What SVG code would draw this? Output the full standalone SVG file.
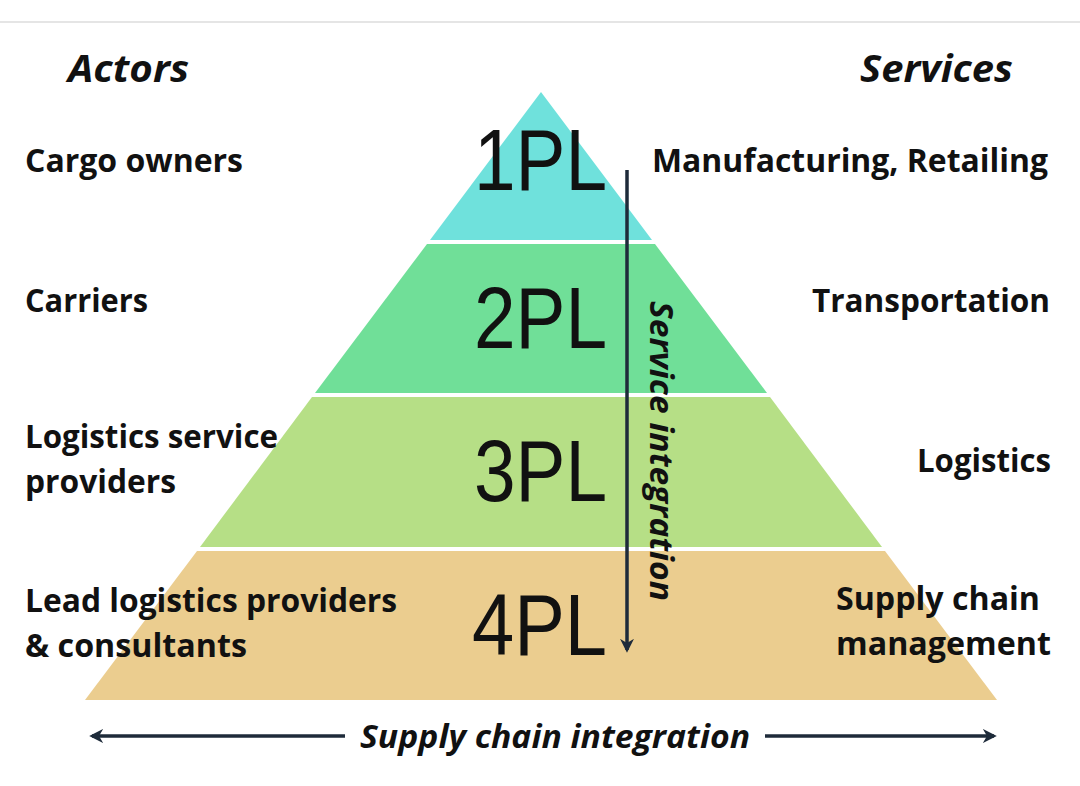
<svg xmlns="http://www.w3.org/2000/svg" width="1080" height="786" viewBox="0 0 1080 786">
<style>
.lbl{font-family:"Open Sans","Liberation Sans",sans-serif;font-weight:bold;font-size:31.5px;fill:#111}
.hdr{font-family:"Open Sans","Liberation Sans",sans-serif;font-weight:bold;font-style:italic;font-size:38px;fill:#111}
.pl{font-family:"Liberation Sans",Arial,sans-serif;font-size:87px;fill:#111}
.it{font-family:"Open Sans","Liberation Sans",sans-serif;font-weight:bold;font-style:italic;font-size:32px;fill:#111}
.arr{stroke:#1e2b3a;stroke-width:3.5;fill:none}
</style>
<defs>
<marker id="ah" viewBox="0 0 10 10" refX="8" refY="5" markerWidth="4" markerHeight="4" orient="auto-start-reverse" markerUnits="strokeWidth">
<path d="M0,0 L10,5 L0,10 L3,5 Z" fill="#1e2b3a"/>
</marker>
</defs>
<rect width="1080" height="786" fill="#fff"/>
<line x1="0" y1="22" x2="1080" y2="22" stroke="#dcdcdc" stroke-width="1.5"/>
<text class="hdr" x="68" y="82" textLength="121" lengthAdjust="spacingAndGlyphs">Actors</text>
<text class="hdr" x="860" y="82" textLength="153" lengthAdjust="spacingAndGlyphs">Services</text>
<g id="tier1">
<polygon points="541,92 652,240 430,240" fill="#6fe1dc"/>
<text class="pl" x="474" y="190" textLength="133" lengthAdjust="spacingAndGlyphs">1PL</text>
</g>
<g id="tier2">
<polygon points="427,244 655,244 767,393 315,393" fill="#70df98"/>
<text class="pl" x="474" y="348" textLength="133" lengthAdjust="spacingAndGlyphs">2PL</text>
</g>
<g id="tier3">
<polygon points="312,397 770,397 882,547 200,547" fill="#b6df86"/>
<text class="pl" x="474" y="501" textLength="133" lengthAdjust="spacingAndGlyphs">3PL</text>
</g>
<g id="tier4">
<polygon points="197,551 885,551 997,700 85,700" fill="#ebcd8f"/>
<text class="pl" x="472" y="655" textLength="135" lengthAdjust="spacingAndGlyphs">4PL</text>
</g>
<g id="actors">
<text class="lbl" x="25" y="172" textLength="218" lengthAdjust="spacingAndGlyphs">Cargo owners</text>
<text class="lbl" x="25" y="312" textLength="123" lengthAdjust="spacingAndGlyphs">Carriers</text>
<text class="lbl" x="25" y="448" textLength="253" lengthAdjust="spacingAndGlyphs">Logistics service</text>
<text class="lbl" x="25" y="493" textLength="151" lengthAdjust="spacingAndGlyphs">providers</text>
<text class="lbl" x="25" y="612" textLength="372" lengthAdjust="spacingAndGlyphs">Lead logistics providers</text>
<text class="lbl" x="25" y="657" textLength="222" lengthAdjust="spacingAndGlyphs">&amp; consultants</text>
</g>
<g id="services">
<text class="lbl" x="652" y="172" textLength="396" lengthAdjust="spacingAndGlyphs">Manufacturing, Retailing</text>
<text class="lbl" x="812" y="312" textLength="238" lengthAdjust="spacingAndGlyphs">Transportation</text>
<text class="lbl" x="917" y="472" textLength="134" lengthAdjust="spacingAndGlyphs">Logistics</text>
<text class="lbl" x="836" y="610" textLength="204" lengthAdjust="spacingAndGlyphs">Supply chain</text>
<text class="lbl" x="836" y="655" textLength="215" lengthAdjust="spacingAndGlyphs">management</text>
</g>
<g id="connectors">
<line class="arr" x1="627" y1="170" x2="627" y2="650" marker-end="url(#ah)"/>
<line class="arr" x1="92" y1="736" x2="345" y2="736" marker-start="url(#ah)"/>
<line class="arr" x1="765" y1="736" x2="994" y2="736" marker-end="url(#ah)"/>
</g>
<text class="it" transform="translate(650,301) rotate(90)" x="0" y="0" textLength="300" lengthAdjust="spacingAndGlyphs">Service integration</text>
<text class="it" x="360" y="748" textLength="390" lengthAdjust="spacingAndGlyphs">Supply chain integration</text>
</svg>
